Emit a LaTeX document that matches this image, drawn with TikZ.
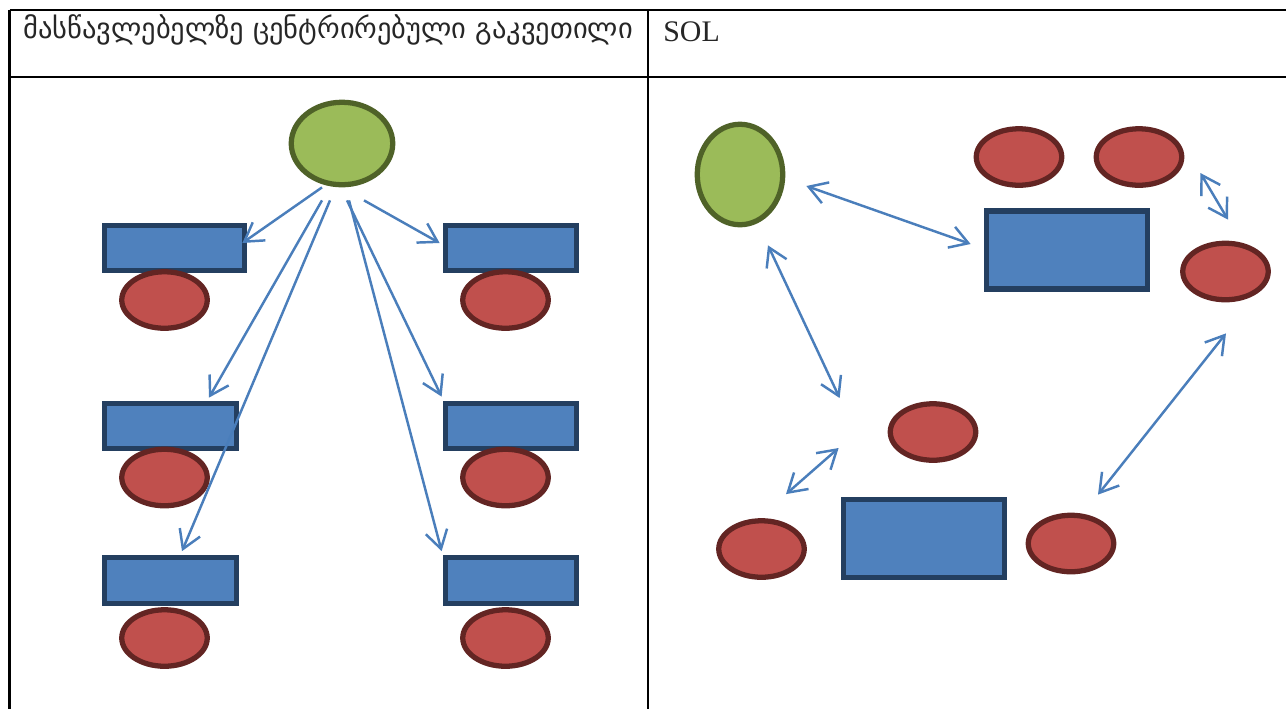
\documentclass[tikz,border=0pt]{standalone}
\usepackage{fontspec}
\setmainfont{Liberation Serif}
\newfontfamily\geofont{DejaVu Sans}
\usepackage{tikz}
\usetikzlibrary{arrows.meta,positioning,calc,shapes.geometric}
\definecolor{clsblue}{HTML}{4F81BD}
\definecolor{clsnavy}{HTML}{243F60}
\definecolor{clsred}{HTML}{C0504D}
\definecolor{clsredline}{HTML}{632523}
\definecolor{clsgreen}{HTML}{9BBB59}
\definecolor{clsgreenline}{HTML}{4F6228}
\definecolor{clsarrow}{HTML}{4A7EBB}

\begin{document}
\begin{tikzpicture}[
    x=0.02cm,
    y=-0.02cm,
    teacher/.style={ellipse, draw=clsgreenline, fill=clsgreen, line width=3pt, inner sep=0pt},
    desk/.style={rectangle, draw=clsnavy, fill=clsblue, line width=3pt, inner sep=0pt, minimum height=0.91cm},
    bigdesk/.style={desk, minimum width=3.23cm, minimum height=1.56cm},
    student/.style={ellipse, draw=clsredline, fill=clsred, line width=3pt, inner sep=0pt, minimum width=1.71cm, minimum height=1.13cm},
    link/.style={-{Straight Barb[length=3.6mm,width=4.4mm]}, line width=1.4pt, draw=clsarrow},
    both/.style={{Straight Barb[length=3.6mm,width=4.4mm]}-{Straight Barb[length=3.6mm,width=4.4mm]}, line width=1.4pt, draw=clsarrow},
    rule/.style={line width=1.3pt, draw=black},
    head/.style={anchor=base west, inner sep=0pt, text=black!85}
  ]
    \clip (0,0) rectangle (1286,708);

    % table frame
    \draw[rule] (9.5,10) -- (1300,10);
    \draw[rule] (9.5,77) -- (1300,77);
    \draw[rule] (9.5,10) -- (9.5,720);
    \draw[rule] (648,10) -- (648,720);

    \node[head, font=\geofont\fontsize{16.2}{18}\selectfont] (hleft) at (23,38) {მასწავლებელზე ცენტრირებული გაკვეთილი};
    \node[head, font=\fontsize{17}{19}\selectfont] (hright) at (663,41) {SOL};

    % teacher in front of the rows
    \node[teacher, minimum width=2.03cm, minimum height=1.65cm] (tch) at (342,143.5) {};
    \node[desk, minimum width=2.81cm] (dL1) at (174.5,248) {};
    \node[desk, minimum width=2.65cm] (dL2) at (170.5,426) {};
    \node[desk, minimum width=2.65cm] (dL3) at (170.5,580.5) {};
    \node[desk, minimum width=2.63cm] (dR1) at (511,248) {};
    \node[desk, minimum width=2.63cm] (dR2) at (511,426) {};
    \node[desk, minimum width=2.63cm] (dR3) at (511,580.5) {};
    \node[student] (sL1) at (164.5,300) {};
    \node[student] (sL2) at (164.5,477.5) {};
    \node[student] (sL3) at (164.5,638) {};
    \node[student] (sR1) at (505.5,300) {};
    \node[student] (sR2) at (505.5,477.5) {};
    \node[student] (sR3) at (505.5,638) {};

    \draw[link] ($(tch.south)+(-20,0)$) -- ($(dL1.east)+(-5,-5)$);
    \draw[link] ($(tch.south)+(-20,13)$) -- ($(dL2.north)+(38.5,-3)$);
    \draw[link] ($(tch.south)+(-12,13)$) -- ($(dL3.north)+(11.5,-4)$);
    \draw[link] ($(tch.south)+(5,13)$) -- ($(dR2.north west)+(-1,-4)$);
    \draw[link] ($(tch.south)+(7,13)$) -- ($(dR3.north west)+(-1,-4)$);
    \draw[link] ($(tch.south)+(22,13)$) -- ($(dR1.west)+(-3,-5)$);

    % group work
    \node[teacher, minimum width=1.71cm, minimum height=2.01cm] (tch2) at (740,174.5) {};
    \node[student] (gA1) at (1019,157) {};
    \node[student] (gA2) at (1139,157) {};
    \node[bigdesk] (gAdesk) at (1067,250) {};
    \node[student] (gA3) at (1225.5,271.5) {};
    \node[student] (gB1) at (933,432) {};
    \node[bigdesk] (gBdesk) at (924,538.5) {};
    \node[student] (gB2) at (761.5,549) {};
    \node[student] (gB3) at (1071,543.5) {};

    \draw[both] ($(tch2.east)+(21,11.5)$) -- ($(gAdesk.west)+(-13,-6)$);
    \draw[both] ($(tch2.south)+(28,18)$) -- ($(gB1.west)+(-48,-34)$);
    \draw[both] ($(gA2.east)+(16,16)$) -- ($(gA3.north)+(2.5,-21)$);
    \draw[both] ($(gA3.south)+(0.5,31)$) -- ($(gB3.north)+(27,-18)$);
    \draw[both] ($(gB2.north)+(24.5,-24)$) -- ($(gB1.west)+(-49,16)$);
  \end{tikzpicture}
\end{document}
